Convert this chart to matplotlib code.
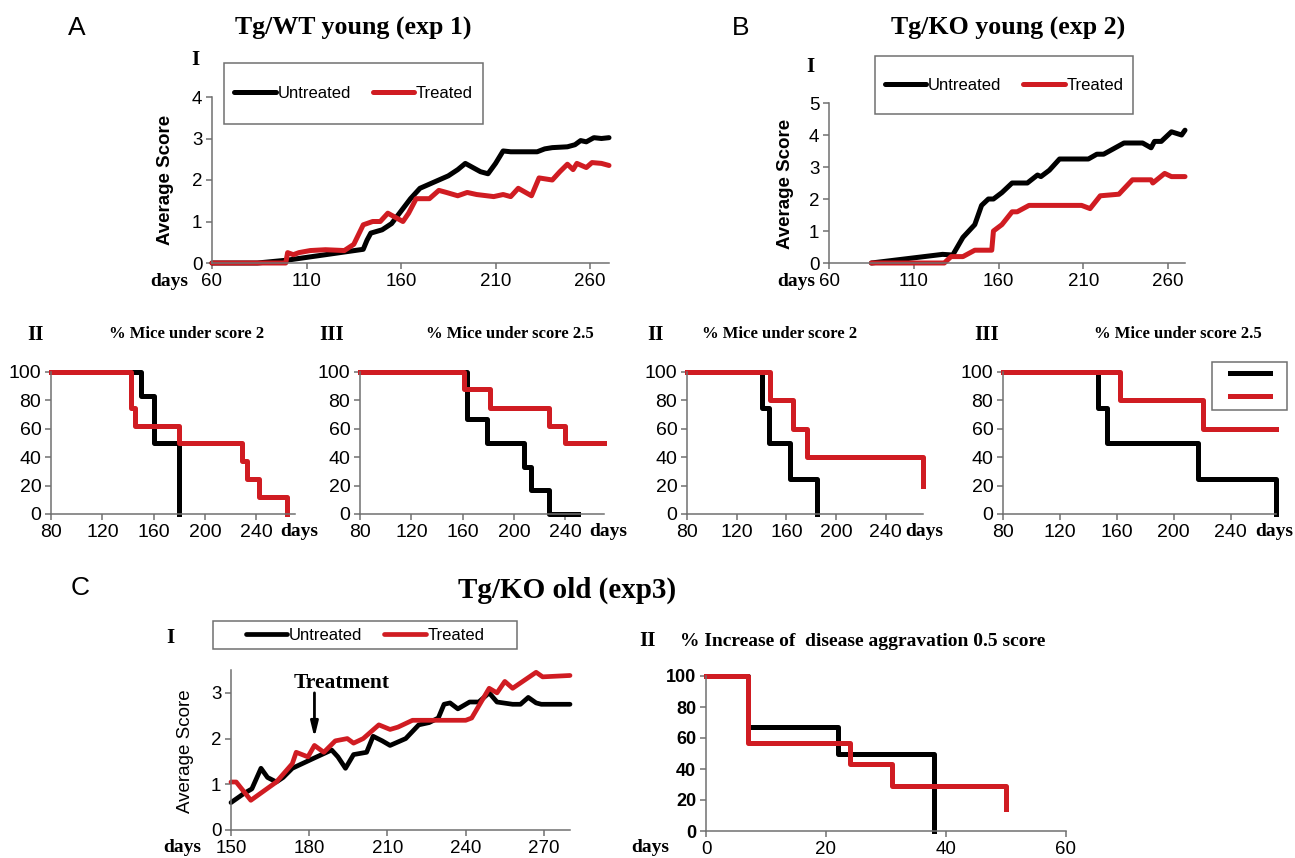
import matplotlib
matplotlib.use('Agg')
import matplotlib.pyplot as plt
from matplotlib.patches import Rectangle

plt.rcParams['font.family'] = ['Liberation Sans', 'DejaVu Sans']

W, H = 1295, 858
BLACK = '#000000'
RED = '#d01c22'
GREY = '#707070'
SERIF = ['Liberation Serif', 'DejaVu Serif']

# ---- A I : Tg/WT young, average score ----
a1_untr_days = [60, 84, 100, 120, 140, 142, 144, 150, 155, 160, 165, 170, 175, 180, 185, 190,
                194, 198, 202, 206, 210, 214, 218, 225, 232, 236, 240, 248, 252, 255, 258, 262, 266, 270]
a1_untr = [0, 0, 0.07, 0.2, 0.33, 0.55, 0.72, 0.8, 0.95, 1.25, 1.55, 1.8, 1.9, 2.0, 2.1, 2.25,
           2.4, 2.3, 2.2, 2.15, 2.4, 2.7, 2.68, 2.68, 2.68, 2.75, 2.78, 2.8, 2.85, 2.95, 2.92, 3.02, 3.0, 3.02]
a1_tr_days = [60, 99, 100, 103, 106, 112, 120, 130, 135, 140, 145, 149, 153, 157, 161, 164, 168, 175,
              180, 184, 190, 195, 200, 209, 214, 218, 222, 229, 233, 240, 244, 248, 251, 253, 258, 261, 266, 270]
a1_tr = [0, 0, 0.25, 0.2, 0.25, 0.3, 0.32, 0.3, 0.45, 0.92, 1.0, 1.0, 1.2, 1.1, 1.0, 1.2, 1.55, 1.55,
         1.75, 1.7, 1.62, 1.7, 1.65, 1.6, 1.65, 1.6, 1.8, 1.62, 2.05, 2.0, 2.2, 2.38, 2.25, 2.4, 2.3, 2.42, 2.4, 2.35]

# ---- B I : Tg/KO young, average score ----
b1_untr_days = [85, 127, 133, 139, 146, 150, 154, 157, 162, 168, 177, 183, 185, 190, 196, 213, 218,
                222, 234, 245, 250, 252, 256, 262, 268, 270]
b1_untr = [0, 0.27, 0.25, 0.8, 1.2, 1.8, 2.0, 2.0, 2.2, 2.5, 2.5, 2.75, 2.7, 2.9, 3.25, 3.25, 3.4,
           3.4, 3.75, 3.75, 3.6, 3.8, 3.8, 4.1, 4.0, 4.15]
b1_tr_days = [85, 128, 132, 139, 146, 156, 157, 162, 168, 171, 178, 209, 214, 220, 231, 239, 250, 251,
              258, 262, 270]
b1_tr = [0, 0, 0.2, 0.2, 0.4, 0.4, 1.0, 1.2, 1.6, 1.6, 1.8, 1.8, 1.7, 2.1, 2.15, 2.6, 2.6, 2.5,
         2.8, 2.7, 2.7]

# ---- A II / A III : % mice under score 2 / 2.5 (Tg/WT) ----
a2_untr_days = [80, 150, 160, 179.5]
a2_untr = [100, 83, 50, 0]
a2_tr_days = [80, 142, 145.5, 179.5, 229, 233, 242, 264]
a2_tr = [100, 75, 62, 50, 37, 25, 12, 0]
a3_untr_days = [80, 163, 179, 208, 213, 227, 250]
a3_untr = [100, 67, 50, 33, 17, 0, 0]
a3_tr_days = [80, 161, 181, 227, 240, 270]
a3_tr = [100, 88, 75, 62, 50, 50]

# ---- B II / B III : % mice under score 2 / 2.5 (Tg/KO) ----
b2_untr_days = [80, 140, 146, 163, 185]
b2_untr = [100, 75, 50, 25, 0]
b2_tr_days = [80, 147, 165, 177, 270]
b2_tr = [100, 80, 60, 40, 20]
b3_untr_days = [80, 147, 153, 217, 272]
b3_untr = [100, 75, 50, 25, 0]
b3_tr_days = [80, 162, 221, 272]
b3_tr = [100, 80, 60, 60]

# ---- C I : Tg/KO old, average score ----
c1_untr_days = [150, 155, 158, 161.5, 164, 167.4, 170, 173.5, 181, 188.6, 191, 193.9, 197, 202, 204.5,
                208, 211, 217, 222, 226, 229.5, 231.7, 234, 237, 241.5, 245, 249, 252, 258, 261, 264, 267, 269, 280]
c1_untr = [0.6, 0.8, 0.9, 1.35, 1.15, 1.05, 1.15, 1.35, 1.55, 1.75, 1.6, 1.35, 1.65, 1.7, 2.05,
           1.95, 1.85, 2.0, 2.3, 2.35, 2.45, 2.75, 2.78, 2.65, 2.8, 2.8, 3.0, 2.8, 2.75, 2.75, 2.9, 2.78, 2.75, 2.75]
c1_tr_days = [150, 152, 157.6, 167.4, 173.5, 175, 179.5, 182, 185.6, 190, 194.6, 197, 200.7, 206.7, 211,
              214, 219.6, 240, 242.3, 249, 252, 255, 258, 267, 269.5, 280]
c1_tr = [1.05, 1.05, 0.65, 1.05, 1.45, 1.7, 1.6, 1.85, 1.7, 1.95, 2.0, 1.9, 2.0, 2.3, 2.2,
         2.25, 2.4, 2.4, 2.45, 3.1, 3.0, 3.25, 3.1, 3.45, 3.35, 3.38]
treatment_day = 182

# ---- C II : % increase of disease aggravation 0.5 score ----
c2_untr_days = [0, 7, 22, 38]
c2_untr = [100, 67, 50, 0]
c2_tr_days = [0, 7, 24, 31, 50]
c2_tr = [100, 57, 43, 29, 14]


def fbox(l, t, r, b):
    return [l / W, 1 - b / H, (r - l) / W, (b - t) / H]


def ftext(x, y, s, **kw):
    kw.setdefault('ha', 'center')
    kw.setdefault('va', 'center')
    fig.text(x / W, 1 - y / H, s, **kw)


def style_axes(ax, size=13):
    for s in ['top', 'right']:
        ax.spines[s].set_visible(False)
    for s in ['left', 'bottom']:
        ax.spines[s].set_color(GREY)
        ax.spines[s].set_linewidth(1.1)
    ax.tick_params(direction='out', length=4, width=1.1, color=GREY, labelsize=size, pad=3)


def legend_box(handles, labels, l, t, r, b, ncol=2, **kw):
    fig.add_artist(Rectangle((l / W, 1 - b / H), (r - l) / W, (b - t) / H,
                             transform=fig.transFigure, fill=False, edgecolor=GREY, lw=1.1))
    fig.legend(handles, labels, loc='center', ncol=ncol, frameon=False,
               bbox_to_anchor=((l + r) / 2 / W, 1 - (t + b) / 2 / H), **kw)


def score_panel(box, xu, yu, xt, yt, xlim, ylim, xticks, yticks, lw=3.6):
    ax = fig.add_axes(fbox(*box))
    lu, = ax.plot(xu, yu, color=BLACK, lw=lw, clip_on=False,
                  solid_joinstyle='round', solid_capstyle='round')
    lt, = ax.plot(xt, yt, color=RED, lw=lw, clip_on=False,
                  solid_joinstyle='round', solid_capstyle='round')
    ax.set_xlim(*xlim)
    ax.set_ylim(*ylim)
    ax.set_xticks(xticks)
    ax.set_yticks(yticks)
    style_axes(ax, 13.5)
    return ax, lu, lt


def step_panel(box, xu, yu, xt, yt, xlim, xticks, lw=3.6, size=14):
    ax = fig.add_axes(fbox(*box))
    lu, = ax.step(xu, yu, where='post', color=BLACK, lw=lw, clip_on=False)
    lt, = ax.step(xt, yt, where='post', color=RED, lw=lw, clip_on=False)
    ax.set_xlim(*xlim)
    ax.set_ylim(0, 100)
    ax.set_xticks(xticks)
    ax.set_yticks(range(0, 101, 20))
    style_axes(ax, size)
    return ax, lu, lt


fig = plt.figure(figsize=(W / 100, H / 100), dpi=100)

leg_kw = dict(fontsize=12, handlelength=2.5, handletextpad=0.1, columnspacing=1.3)

# A I
ax, lu, lt = score_panel((212, 97, 609, 263), a1_untr_days, a1_untr, a1_tr_days, a1_tr,
                         (60, 270), (0, 4), range(60, 261, 50), range(0, 5))
legend_box([lu, lt], ['Untreated', 'Treated'], 224, 63, 483, 124, **leg_kw)
ftext(165, 180, 'Average Score', rotation=90, fontsize=13.5, fontweight='bold')
ftext(169, 282, 'days', fontfamily=SERIF, fontweight='bold', fontsize=14)
ftext(195, 60, 'I', fontfamily=SERIF, fontweight='bold', fontsize=15)
ftext(77, 28, 'A', fontsize=19)
ftext(353, 28, 'Tg/WT young (exp 1)', fontfamily=SERIF, fontweight='bold', fontsize=18.6)

# B I
ax, lu, lt = score_panel((829, 103, 1185, 263), b1_untr_days, b1_untr, b1_tr_days, b1_tr,
                         (60, 270), (0, 5), range(60, 261, 50), range(0, 6))
legend_box([lu, lt], ['Untreated', 'Treated'], 875, 56, 1133, 114, **leg_kw)
ftext(785, 184, 'Average Score', rotation=90, fontsize=13.5, fontweight='bold')
ftext(796, 282, 'days', fontfamily=SERIF, fontweight='bold', fontsize=14)
ftext(810, 67, 'I', fontfamily=SERIF, fontweight='bold', fontsize=15)
ftext(741, 28, 'B', fontsize=19)
ftext(1008, 28, 'Tg/KO young (exp 2)', fontfamily=SERIF, fontweight='bold', fontsize=18.6)

# small step panels
small = [
    ((51, 372, 295, 514), a2_untr_days, a2_untr, a2_tr_days, a2_tr, (80, 270),
     'II', 35, '% Mice under score 2', 187, 299),
    ((360, 372, 604, 514), a3_untr_days, a3_untr, a3_tr_days, a3_tr, (80, 270),
     'III', 332, '% Mice under score 2.5', 510, 608),
    ((687, 372, 923, 514), b2_untr_days, b2_untr, b2_tr_days, b2_tr, (80, 270),
     'II', 656, '% Mice under score 2', 780, 924),
    ((1003, 372, 1276, 514), b3_untr_days, b3_untr, b3_tr_days, b3_tr, (80, 272),
     'III', 987, '% Mice under score 2.5', 1178, 1274),
]
for box, xu, yu, xt, yt, xlim, roman, rx, title, tx, dx in small:
    ax, lu, lt = step_panel(box, xu, yu, xt, yt, xlim, range(80, 241, 40))
    ftext(rx, 335, roman, fontfamily=SERIF, fontweight='bold', fontsize=15)
    ftext(tx, 334, title, fontfamily=SERIF, fontweight='bold', fontsize=12)
    ftext(dx, 532, 'days', fontfamily=SERIF, fontweight='bold', fontsize=14)
legend_box([lu, lt], ['', ''], 1212, 362, 1287, 410, ncol=1, fontsize=12,
           handlelength=2.4, handletextpad=0, labelspacing=0.45)

# C I
ax, lu, lt = score_panel((231, 670, 570, 830), c1_untr_days, c1_untr, c1_tr_days, c1_tr,
                         (150, 280), (0, 3.5), range(150, 271, 30), range(0, 4), lw=3.4)
ax.text(192.5, 3.22, 'Treatment', ha='center', va='center', fontfamily=SERIF,
        fontweight='bold', fontsize=15.5)
ax.annotate('', xy=(treatment_day, 2.02), xytext=(treatment_day, 3.0),
            arrowprops=dict(arrowstyle='-|>,head_length=0.9,head_width=0.22', lw=2,
                            color='k', shrinkA=0, shrinkB=0))
legend_box([lu, lt], ['Untreated', 'Treated'], 213, 621, 517, 649, **leg_kw)
ftext(186, 751, 'Average Score', rotation=90, fontsize=13.5)
ftext(182, 848, 'days', fontfamily=SERIF, fontweight='bold', fontsize=14)
ftext(170, 638, 'I', fontfamily=SERIF, fontweight='bold', fontsize=15)
ftext(80, 588, 'C', fontsize=19)
ftext(567, 590, 'Tg/KO old (exp3)', fontfamily=SERIF, fontweight='bold', fontsize=21)

# C II
ax, lu, lt = step_panel((706, 676, 1066, 831), c2_untr_days, c2_untr, c2_tr_days, c2_tr,
                        (0, 60), range(0, 61, 20), size=13.5)
for lab in ax.get_yticklabels():
    lab.set_fontweight('bold')
    lab.set_fontsize(13)
ftext(648, 641, 'II', fontfamily=SERIF, fontweight='bold', fontsize=15)
ftext(680, 641, '% Increase of  disease aggravation 0.5 score', ha='left',
      fontfamily=SERIF, fontweight='bold', fontsize=14)
ftext(650, 847, 'days', fontfamily=SERIF, fontweight='bold', fontsize=14)

fig.savefig('out.png', dpi=100)
